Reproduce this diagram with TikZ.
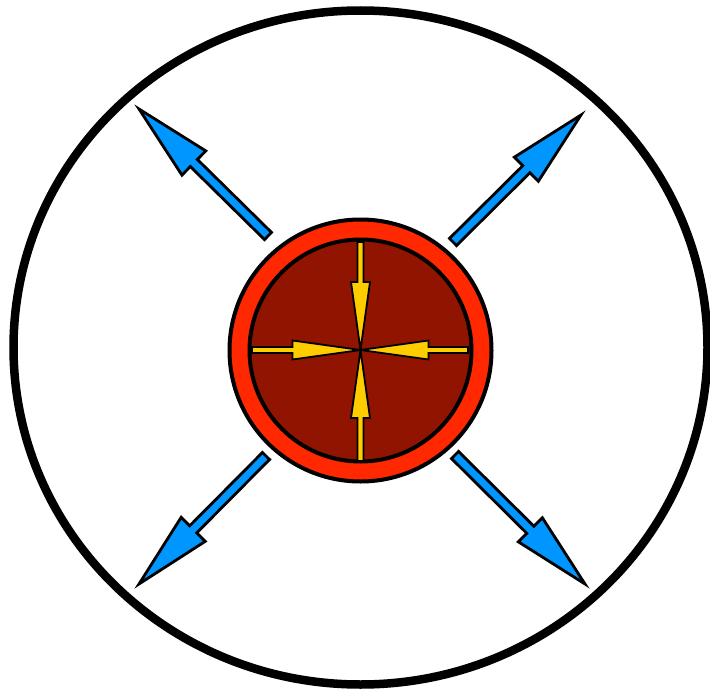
\documentclass[tikz,border=0pt]{standalone}
\usetikzlibrary{calc}
\definecolor{arrowblue}{RGB}{0,150,255}
\definecolor{ringred}{RGB}{255,40,0}
\definecolor{corered}{RGB}{145,20,0}
\definecolor{arrowyellow}{RGB}{255,204,0}
\newcommand{\fatarrow}[6]{%
  \coordinate (fa-b) at ($(#2)!#5!(#1)$);
  \filldraw[#6] ($(#1)!#3!90:(#2)$) -- ($(fa-b)!#3!90:(#2)$) -- ($(fa-b)!#4!90:(#2)$) -- (#2)
    -- ($(fa-b)!#4!-90:(#2)$) -- ($(fa-b)!#3!-90:(#2)$) -- ($(#1)!#3!-90:(#2)$) -- cycle;}
\tikzset{
  bluearrow/.style={fill=arrowblue, draw=black, line width=2.8pt, line join=miter},
  yellowarrow/.style={fill=arrowyellow, draw=black, line width=1.8pt, line join=miter},
}
\begin{document}
\begin{tikzpicture}[x=1pt,y=-1pt]
\useasboundingbox (0,0) rectangle (710,693);
\fill[white] (0,0) rectangle (710,693);
% outer boundary
\coordinate (oc) at (360.5,347.5);
\draw[line width=8.5pt] (oc) ellipse [x radius=347, y radius=337];
% core
\coordinate (cc) at (360.5,350.5);
\filldraw[fill=ringred, draw=black, line width=4pt] (cc) circle [radius=131];
\filldraw[fill=corered, draw=black, line width=4pt] (cc) circle [radius=111];
% yellow inward arrows
\coordinate (yc) at (360.5,350);
\coordinate (yt) at (360.5,242);
\coordinate (yb) at (360.5,461);
\coordinate (yl) at (252,350);
\coordinate (yr) at (468,350);
\fatarrow{yt}{yc}{3pt}{9.5pt}{68pt}{yellowarrow}
\fatarrow{yb}{yc}{3pt}{9.5pt}{68pt}{yellowarrow}
\fatarrow{yl}{yc}{3pt}{9.5pt}{68pt}{yellowarrow}
\fatarrow{yr}{yc}{3pt}{9.5pt}{68pt}{yellowarrow}
% blue outward arrows
\coordinate (tlT) at (268,236);
\coordinate (tlP) at (139,109);
\coordinate (trT) at (453,242);
\coordinate (trP) at (581,115);
\coordinate (blT) at (266,456);
\coordinate (blP) at (139,584);
\coordinate (brT) at (455,455);
\coordinate (brP) at (585,584);
\fatarrow{tlT}{tlP}{5pt}{17pt}{77pt}{bluearrow}
\fatarrow{trT}{trP}{5pt}{17pt}{77pt}{bluearrow}
\fatarrow{blT}{blP}{5pt}{17pt}{77pt}{bluearrow}
\fatarrow{brT}{brP}{5pt}{17pt}{77pt}{bluearrow}
\end{tikzpicture}
\end{document}
